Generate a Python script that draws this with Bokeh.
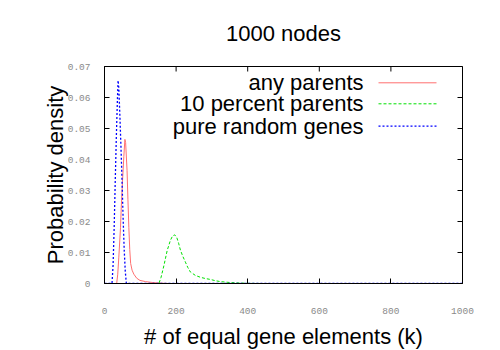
import math
from bokeh.plotting import figure
from bokeh.models import Range1d, FixedTicker, Label, Arrow
from bokeh.embed import file_html
from bokeh.resources import INLINE

# ---- data ----
title_text = "1000 nodes"
x_label = "# of equal gene elements (k)"
y_label = "Probability density"

series_names = ["any parents", "10 percent parents", "pure random genes"]

k_any = [0, 34, 37, 40, 44.7, 47, 50.3, 54, 57, 59, 63, 65.5, 68, 70.5, 73, 77, 82, 90, 99, 115, 135, 160, 180, 1000]
v_any = [0, 0, 0.003, 0.0085, 0.018, 0.025, 0.033, 0.041, 0.0465, 0.0455, 0.0365, 0.027, 0.018, 0.011, 0.0065, 0.0043, 0.003, 0.0017, 0.001, 0.0006, 0.0003, 0.0001, 0, 0]

k_ten = [0, 152, 158, 166, 175, 184, 190, 196, 202, 207, 212, 219, 226, 233, 240, 254, 268, 282, 296, 310, 324, 352, 380, 410, 440, 1000]
v_ten = [0, 0, 0.002, 0.0058, 0.0106, 0.0139, 0.0153, 0.0157, 0.0148, 0.013, 0.0108, 0.0087, 0.0069, 0.0051, 0.0037, 0.0026, 0.002, 0.0016, 0.0013, 0.0009, 0.0006, 0.0003, 0.00015, 0.00005, 0, 0]

k_rand = [0, 21, 24, 27, 30, 33, 36, 38, 40, 43, 46, 49, 52, 55, 58, 61, 1000]
v_rand = [0, 0, 0.006, 0.018, 0.033, 0.047, 0.059, 0.0655, 0.063, 0.054, 0.044, 0.033, 0.021, 0.011, 0.004, 0, 0]

x_ticks = [0, 200, 400, 600, 800, 1000]
x_tick_labels = ["0", "200", "400", "600", "800", "1000"]
y_ticks = [0, 0.01, 0.02, 0.03, 0.04, 0.05, 0.06, 0.07]
y_tick_labels = ["0", "0.01", "0.02", "0.03", "0.04", "0.05", "0.06", "0.07"]

colors = ["#ff7070", "#00e000", "#0000ff"]
dashes = ["solid", "3 2", "2 2"]
widths = [1, 1, 1.3]

SANS = "Liberation Sans"
MONO = "Liberation Mono"

x0, x1 = 0, 1000
y0, y1 = 0, 0.07

p = figure(width=500, height=350, output_backend="svg", toolbar_location=None,
           x_range=Range1d(x0, x1), y_range=Range1d(y0, y1),
           min_border_left=104, min_border_right=38, min_border_top=66, min_border_bottom=67)

p.title.text = title_text
p.title.align = "center"
p.title.vertical_align = "middle"
p.title.text_font = SANS
p.title.text_font_size = "22px"
p.title.text_font_style = "normal"
p.title.text_color = "black"
p.title.standoff = 39

p.grid.visible = False
p.outline_line_color = "black"
p.outline_line_width = 1
p.background_fill_color = "white"
p.border_fill_color = "white"

xt = FixedTicker(ticks=x_ticks, minor_ticks=[])
yt = FixedTicker(ticks=y_ticks, minor_ticks=[])

for ax, t, labs in ((p.xaxis[0], xt, x_tick_labels), (p.yaxis[0], yt, y_tick_labels)):
    ax.ticker = t
    ax.major_label_overrides = {v: s for v, s in zip(t.ticks, labs)}
    ax.major_tick_in = 5
    ax.major_tick_out = 0
    ax.minor_tick_in = 0
    ax.minor_tick_out = 0
    ax.axis_line_color = "black"
    ax.major_tick_line_color = "black"
    ax.major_label_text_font = MONO
    ax.major_label_text_font_size = "9.5px"
    ax.major_label_text_color = "#8a8a8a"
    ax.axis_label_text_font = SANS
    ax.axis_label_text_font_size = "22px"
    ax.axis_label_text_font_style = "normal"
    ax.axis_label_text_color = "black"

p.xaxis[0].major_label_standoff = 24
p.yaxis[0].axis_label = y_label
p.yaxis[0].major_label_standoff = 14
p.yaxis[0].axis_label_standoff = -3

# x-axis title placed in the panel below the axis
p.add_layout(Label(x=179, y=5, x_units="screen", y_units="screen", text=x_label,
                   text_align="center", text_baseline="middle", text_font=SANS,
                   text_font_size="22px", text_color="black"), "below")

# mirrored inward ticks on top and right edges (half of each dash is clipped by the frame)
p.scatter(x_ticks, [y1] * len(x_ticks), marker="dash", angle=math.pi / 2, size=10,
          line_color="black", line_width=1)
p.scatter([x1] * len(y_ticks), y_ticks, marker="dash", size=10,
          line_color="black", line_width=1)

for k, v, c, d, w in zip((k_any, k_ten, k_rand), (v_any, v_ten, v_rand), colors, dashes, widths):
    p.line(k, v, line_color=c, line_dash=d, line_width=w)

# gnuplot-style key: right-aligned text followed by a line sample (screen units, frame-relative)
key_rows = [200.7, 179.7, 157.3]
for name, c, d, w, yy in zip(series_names, colors, dashes, widths, key_rows):
    p.add_layout(Label(x=259, y=yy, x_units="screen", y_units="screen", text=name,
                       text_align="right", text_baseline="middle", text_font=SANS,
                       text_font_size="22px", text_color="black"))
    p.add_layout(Arrow(start=None, end=None, x_start=274, y_start=yy, x_end=332, y_end=yy,
                       start_units="screen", end_units="screen",
                       line_color=c, line_dash=d, line_width=w))

open("out.html", "w").write(file_html(p, INLINE))
